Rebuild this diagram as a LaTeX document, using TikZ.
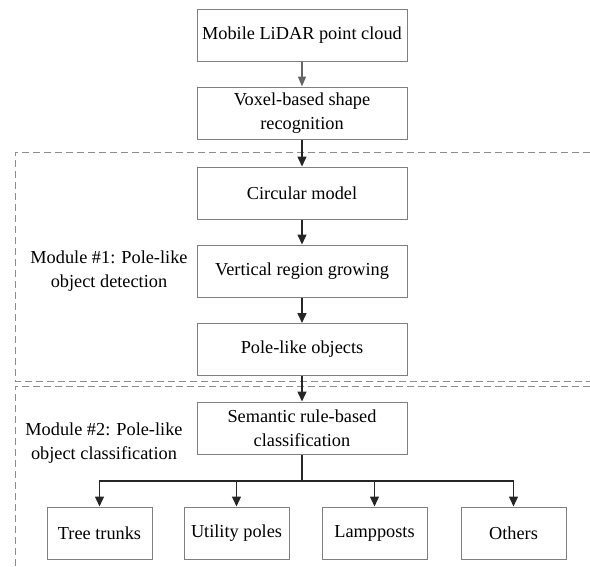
\documentclass[tikz,border=0pt]{standalone}
\usepackage{fontspec}
\setmainfont{Liberation Serif}
\usetikzlibrary{arrows.meta}
\definecolor{boxgray}{HTML}{7F7F7F}
\definecolor{arrdark}{HTML}{262626}
\definecolor{arrgray}{HTML}{666666}
\definecolor{dashgray}{HTML}{8C8C8C}
\begin{document}
\begin{tikzpicture}[x=1pt,y=-1pt,
  txt/.style={font=\fontsize{18.3}{23.5}\selectfont, align=center, inner sep=0pt},
  box/.style={txt, draw=boxgray, line width=1pt, minimum width=210pt, minimum height=52pt},
  smallbox/.style={box, minimum width=105pt},
  arr/.style={draw=arrdark, line width=1.4pt, -{Triangle[width=9pt,length=10pt]}},
  garr/.style={draw=arrgray, line width=1.4pt, -{Triangle[width=8pt,length=10pt]}},
  modline/.style={draw=dashgray, line width=1pt, dash pattern=on 7pt off 4pt}
]
\useasboundingbox (0,0) rectangle (590,566);

\node[box] (mob) at (302,35) {Mobile LiDAR point cloud};
\node[box] (vox) at (302,113) {Voxel-based shape\\recognition};
\node[box] (circ) at (302,193) {Circular model};
\node[box] (vrg) at (302,271) {Vertical region growing};
\node[box] (plo) at (302,349.5) {Pole-like objects};
\node[box] (sem) at (302,428) {Semantic rule-based\\classification};

\node[smallbox] (tree) at (99.5,533) {Tree trunks};
\node[smallbox] (util) at (236.5,533) {Utility poles};
\node[smallbox] (lamp) at (374.5,533) {Lampposts};
\node[smallbox] (oth) at (513.5,533) {Others};

\node[txt] (m1) at (109,271) {Module \#1: Pole-like\\object detection};
\node[txt] (m2) at (104,443) {Module \#2: Pole-like\\object classification};

\draw[modline] (590,152) -- (15,152) -- (15,381) -- (590,381);
\draw[modline] (590,386) -- (15,386) -- (15,566);

\draw[garr] (mob) -- (vox);
\draw[arr] (vox) -- (circ);
\draw[arr] (circ) -- (vrg);
\draw[arr] (vrg) -- (plo);
\draw[arr] (plo) -- (sem);

\coordinate (br) at (302,481);
\draw[draw=arrdark, line width=1.4pt] (sem.south) -- (br);
\draw[arr] (br) -| (tree.north);
\draw[arr] (br) -| (util.north);
\draw[arr] (br) -| (lamp.north);
\draw[arr] (br) -| (oth.north);
\end{tikzpicture}
\end{document}
